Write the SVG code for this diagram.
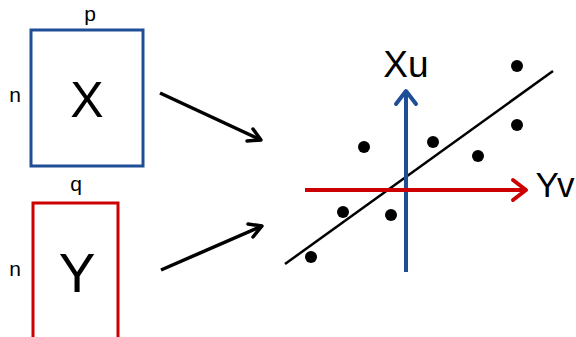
<svg xmlns="http://www.w3.org/2000/svg" width="576" height="337" viewBox="0 0 576 337">
<style>
text{font-family:"Liberation Sans",Arial,sans-serif;fill:#000}
.sm{font-size:21px}
.open{fill:none;stroke-linecap:round;stroke-linejoin:round}
</style>
<rect width="576" height="337" fill="#fff"/>
<g id="nodeX">
<rect x="31" y="30" width="112" height="136" fill="none" stroke="#1f4e96" stroke-width="3"/>
<text x="87" y="117" font-size="50" text-anchor="middle">X</text>
<text class="sm" x="90" y="21" text-anchor="middle">p</text>
<text class="sm" x="15" y="102" text-anchor="middle">n</text>
</g>
<g id="nodeY">
<rect x="33" y="203" width="85" height="150" fill="none" stroke="#cc0000" stroke-width="3"/>
<text x="77" y="292" font-size="55" text-anchor="middle">Y</text>
<text class="sm" x="76" y="191" text-anchor="middle">q</text>
<text class="sm" x="15" y="276" text-anchor="middle">n</text>
</g>
<g id="plot">
<line x1="285" y1="264" x2="553" y2="71" stroke="#000" stroke-width="2.5"/>
<g fill="#000">
<circle cx="517" cy="66" r="6"/>
<circle cx="517" cy="125" r="6"/>
<circle cx="364" cy="147" r="6"/>
<circle cx="433" cy="142" r="6"/>
<circle cx="478" cy="156" r="6"/>
<circle cx="343" cy="212" r="6"/>
<circle cx="391" cy="215" r="6"/>
<circle cx="311" cy="257" r="6"/>
</g>
<line x1="406" y1="272" x2="406" y2="91" stroke="#1f4e96" stroke-width="4"/>
<polyline class="open" points="396,104 406,91 416,104" stroke="#1f4e96" stroke-width="4"/>
<line x1="305" y1="190" x2="526" y2="190" stroke="#cc0000" stroke-width="4"/>
<polyline class="open" points="513,180 526,190 513,200" stroke="#cc0000" stroke-width="4"/>
<text x="406" y="77" font-size="37" text-anchor="middle">Xu</text>
<text x="555" y="197" font-size="35" text-anchor="middle">Yv</text>
</g>
<g id="connectors" stroke="#000" stroke-width="3.5">
<line x1="160" y1="93" x2="261" y2="140"/>
<polyline class="open" points="247,141 261,140 253,129"/>
<line x1="161" y1="270" x2="262" y2="226"/>
<polyline class="open" points="253,237 262,226 248,224"/>
</g>
</svg>
